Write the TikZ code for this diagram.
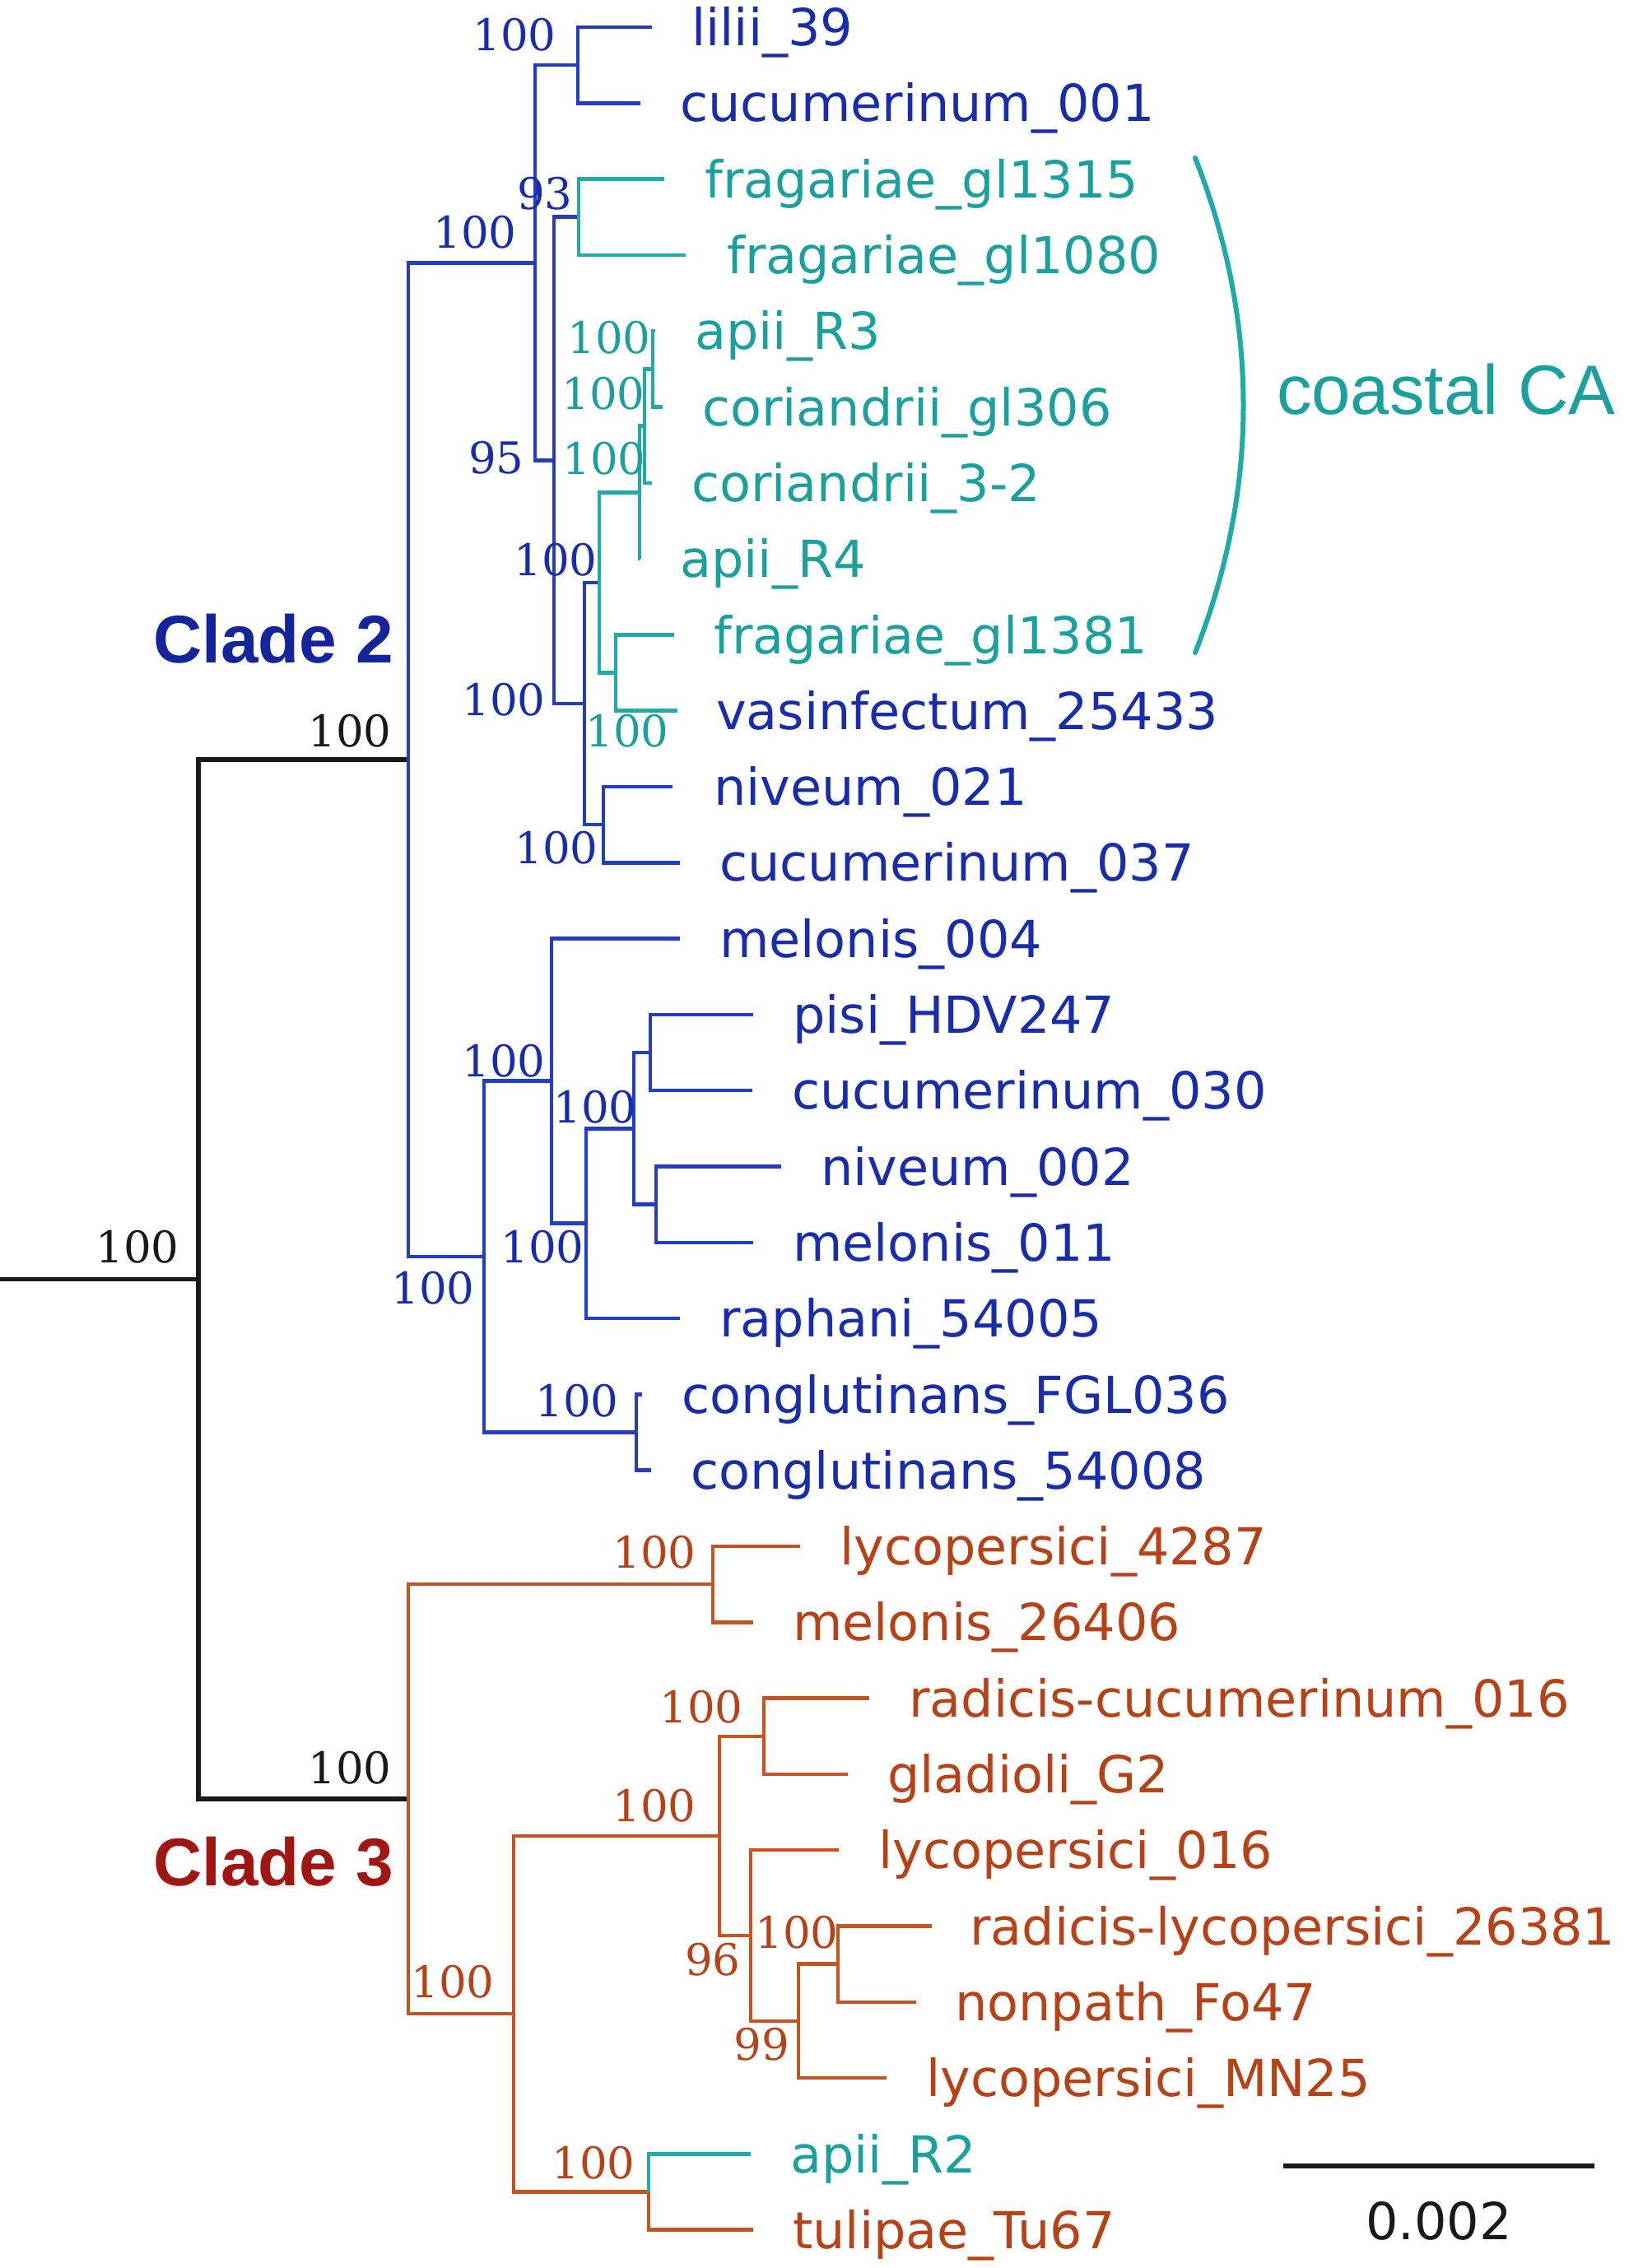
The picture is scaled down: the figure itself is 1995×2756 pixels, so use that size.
\documentclass[tikz,border=0pt]{standalone}
\usepackage{fontspec}
\newfontfamily\leaffont{DejaVu Sans}
\newfontfamily\bsfont{DejaVu Serif}
\newfontfamily\cladefont{Liberation Sans}
\definecolor{lblue}{RGB}{35,62,195}
\definecolor{tblue}{RGB}{25,45,170}
\definecolor{lcyan}{RGB}{32,170,168}
\definecolor{tcyan}{RGB}{28,160,158}
\definecolor{lorng}{RGB}{196,84,34}
\definecolor{torng}{RGB}{182,66,24}
\definecolor{ctwo}{RGB}{20,36,155}
\definecolor{cthree}{RGB}{160,22,18}
\definecolor{kblk}{RGB}{25,25,25}
\begin{document}
\begin{tikzpicture}[x=1pt,y=-1pt,
  br/.style={line width=4.5pt},
  bb/.style={br,draw=lblue},
  cb/.style={br,draw=lcyan},
  ob/.style={br,draw=lorng},
  kb/.style={line width=5.5pt,draw=kblk},
  leaf/.style={anchor=base west,inner sep=0pt,font=\leaffont\fontsize{62}{62}\selectfont},
  bl/.style={leaf,text=tblue},
  cl/.style={leaf,text=tcyan},
  ol/.style={leaf,text=torng},
  bs/.style={anchor=center,inner sep=0pt,font=\bsfont\fontsize{53}{53}\selectfont},
  bsb/.style={bs,text=tblue},
  bsc/.style={bs,text=tcyan},
  bso/.style={bs,text=torng},
  bsk/.style={bs,text=kblk},
]
\useasboundingbox (0,0) rectangle (1995,2756);
% internal nodes
\coordinate (rootin) at (0,1554.7);
\coordinate (root) at (241,1554.7);
\coordinate (K2) at (496,923.2);
\coordinate (K3) at (496,2186.2);
\coordinate (A) at (650,319.3);
\coordinate (L) at (702,79.15);
\coordinate (B) at (673,559.4);
\coordinate (G) at (703,263.75);
\coordinate (C) at (710,855.05);
\coordinate (F) at (728,707.95);
\coordinate (H) at (777,598.35);
\coordinate (P2) at (783,517.6);
\coordinate (P1) at (793,448.35);
\coordinate (GV) at (748,817.55);
\coordinate (E) at (733,1002.15);
\coordinate (M) at (588,1527.1);
\coordinate (N) at (670,1313.65);
\coordinate (R) at (712,1486.7);
\coordinate (S) at (770,1371.35);
\coordinate (T) at (790,1279.05);
\coordinate (U) at (797,1463.65);
\coordinate (Q) at (773,1740.55);
\coordinate (V) at (866,1925.15);
\coordinate (W) at (624,2447.2);
\coordinate (X) at (874,2230.9);
\coordinate (Z) at (928,2109.75);
\coordinate (AA) at (912,2352.05);
\coordinate (AB) at (970,2455.9);
\coordinate (AC) at (1018,2386.65);
\coordinate (Y) at (788,2663.55);
% leaf tips
\coordinate (t0) at (792,33);
\coordinate (t1) at (778,125.3);
\coordinate (t2) at (807,217.6);
\coordinate (t3) at (833,309.9);
\coordinate (t4) at (796,402.2);
\coordinate (t5) at (805,494.5);
\coordinate (t6) at (792,586.8);
\coordinate (t7) at (778,679.1);
\coordinate (t8) at (819,771.4);
\coordinate (t9) at (823,863.7);
\coordinate (t10) at (817,956);
\coordinate (t11) at (826,1048.3);
\coordinate (t12) at (826,1140.6);
\coordinate (t13) at (915,1232.9);
\coordinate (t14) at (914,1325.2);
\coordinate (t15) at (949,1417.5);
\coordinate (t16) at (915,1509.8);
\coordinate (t17) at (826,1602.1);
\coordinate (t18) at (780,1694.4);
\coordinate (t19) at (791,1786.7);
\coordinate (t20) at (972,1879);
\coordinate (t21) at (915,1971.3);
\coordinate (t22) at (1056,2063.6);
\coordinate (t23) at (1030,2155.9);
\coordinate (t24) at (1019,2248.2);
\coordinate (t25) at (1132,2340.5);
\coordinate (t26) at (1113,2432.8);
\coordinate (t27) at (1077,2525.1);
\coordinate (t28) at (912,2617.4);
\coordinate (t29) at (915,2709.7);
% branches
\draw[kb] (rootin) -- (root);
\draw[kb] (root) |- (K2);
\draw[kb] (root) |- (K3);
\draw[bb] (K2) |- (A);
\draw[bb] (K2) |- (M);
\draw[bb] (A) |- (L);
\draw[bb] (A) |- (B);
\draw[bb] (L) |- (t0);
\draw[bb] (L) |- (t1);
\draw[bb] (B) |- (G);
\draw[bb] (B) |- (C);
\draw[cb] (G) |- (t2);
\draw[cb] (G) |- (t3);
\draw[bb] (C) |- (F);
\draw[bb] (C) |- (E);
\draw[cb] (F) |- (H);
\draw[cb] (F) |- (GV);
\draw[cb] (H) |- (P2);
\draw[cb] (H) |- (t7);
\draw[cb] (P2) |- (P1);
\draw[cb] (P2) |- (t6);
\draw[cb] (P1) |- (t4);
\draw[cb] (P1) |- (t5);
\draw[cb] (GV) |- (t8);
\draw[cb] (GV) |- (t9);
\draw[bb] (E) |- (t10);
\draw[bb] (E) |- (t11);
\draw[bb] (M) |- (N);
\draw[bb] (M) |- (Q);
\draw[bb] (N) |- (t12);
\draw[bb] (N) |- (R);
\draw[bb] (R) |- (S);
\draw[bb] (R) |- (t17);
\draw[bb] (S) |- (T);
\draw[bb] (S) |- (U);
\draw[bb] (T) |- (t13);
\draw[bb] (T) |- (t14);
\draw[bb] (U) |- (t15);
\draw[bb] (U) |- (t16);
\draw[bb] (Q) |- (t18);
\draw[bb] (Q) |- (t19);
\draw[ob] (K3) |- (V);
\draw[ob] (K3) |- (W);
\draw[ob] (V) |- (t20);
\draw[ob] (V) |- (t21);
\draw[ob] (W) |- (X);
\draw[ob] (W) |- (Y);
\draw[ob] (X) |- (Z);
\draw[ob] (X) |- (AA);
\draw[ob] (Z) |- (t22);
\draw[ob] (Z) |- (t23);
\draw[ob] (AA) |- (t24);
\draw[ob] (AA) |- (AB);
\draw[ob] (AB) |- (AC);
\draw[ob] (AB) |- (t27);
\draw[ob] (AC) |- (t25);
\draw[ob] (AC) |- (t26);
\draw[cb] (Y) |- (t28);
\draw[ob] (Y) |- (t29);
% leaf labels
\node[bl] (n0) at (840,55.6) {lilii\_39};
\node[bl] (n1) at (826,147.9) {cucumerinum\_001};
\node[cl] (n2) at (856,240.2) {fragariae\_gl1315};
\node[cl] (n3) at (883,332.5) {fragariae\_gl1080};
\node[cl] (n4) at (844,424.8) {apii\_R3};
\node[cl] (n5) at (853,517.1) {coriandrii\_gl306};
\node[cl] (n6) at (840,609.4) {coriandrii\_3-2};
\node[cl] (n7) at (826,701.7) {apii\_R4};
\node[cl] (n8) at (867,794) {fragariae\_gl1381};
\node[bl] (n9) at (870,886.3) {vasinfectum\_25433};
\node[bl] (n10) at (867,978.6) {niveum\_021};
\node[bl] (n11) at (874,1070.9) {cucumerinum\_037};
\node[bl] (n12) at (874,1163.2) {melonis\_004};
\node[bl] (n13) at (963,1255.5) {pisi\_HDV247};
\node[bl] (n14) at (962,1347.8) {cucumerinum\_030};
\node[bl] (n15) at (997,1440.1) {niveum\_002};
\node[bl] (n16) at (963,1532.4) {melonis\_011};
\node[bl] (n17) at (874,1624.7) {raphani\_54005};
\node[bl] (n18) at (828,1717) {conglutinans\_FGL036};
\node[bl] (n19) at (839,1809.3) {conglutinans\_54008};
\node[ol] (n20) at (1020,1901.6) {lycopersici\_4287};
\node[ol] (n21) at (963,1993.9) {melonis\_26406};
\node[ol] (n22) at (1104,2086.2) {radicis-cucumerinum\_016};
\node[ol] (n23) at (1078,2178.5) {gladioli\_G2};
\node[ol] (n24) at (1067,2270.8) {lycopersici\_016};
\node[ol] (n25) at (1178,2363.1) {radicis-lycopersici\_26381};
\node[ol] (n26) at (1160,2455.4) {nonpath\_Fo47};
\node[ol] (n27) at (1125,2547.7) {lycopersici\_MN25};
\node[cl] (n28) at (960,2640) {apii\_R2};
\node[ol] (n29) at (963,2732.3) {tulipae\_Tu67};
% support values
\node[bsk] (sroot) at (167,1515) {100};
\node[bsk] (sK2) at (425,888) {100};
\node[bsk] (sK3) at (425,2148) {100};
\node[bsb] (sA) at (577,282) {100};
\node[bsb] (sL) at (625,42) {100};
\node[bsb] (sG) at (662,235) {93};
\node[bsb] (sB) at (603,556) {95};
\node[bsc] (sP1) at (740,410) {100};
\node[bsc] (sP2) at (733,478) {100};
\node[bsc] (sH) at (734,557) {100};
\node[bsb] (sF) at (675,680) {100};
\node[bsb] (sC) at (612,850) {100};
\node[bsc] (sGV) at (762,888) {100};
\node[bsb] (sE) at (676,1030) {100};
\node[bsb] (sN) at (612,1289) {100};
\node[bsb] (sS) at (723,1345) {100};
\node[bsb] (sR) at (659,1515) {100};
\node[bsb] (sM) at (526,1565) {100};
\node[bsb] (sQ) at (701,1702) {100};
\node[bso] (sV) at (795,1886) {100};
\node[bso] (sZ) at (852,2074) {100};
\node[bso] (sX) at (795,2194) {100};
\node[bso] (sW) at (550,2408) {100};
\node[bso] (sAC) at (968,2348) {100};
\node[bso] (sAA) at (866,2381) {96};
\node[bso] (sAB) at (925,2484) {99};
\node[bso] (sY) at (721,2628) {100};
% clade labels
\node[anchor=east,inner sep=0pt,font=\cladefont\bfseries\fontsize{82}{82}\selectfont,text=ctwo] (cl2) at (478,776) {Clade 2};
\node[anchor=east,inner sep=0pt,font=\cladefont\bfseries\fontsize{82}{82}\selectfont,text=cthree] (cl3) at (478,2262) {Clade 3};
% coastal CA bracket
\coordinate (brt) at (1452,192);
\coordinate (brb) at (1452,793);
\draw[line width=6pt,draw=lcyan,line cap=round] (brt) .. controls (1530,390) and (1530,595) .. (brb);
\node[anchor=west,inner sep=0pt,font=\cladefont\fontsize{85}{85}\selectfont,text=tcyan] (coast) at (1551,473) {coastal CA};
% scale bar
\coordinate (sbl) at (1559,2632);
\coordinate (sbr) at (1937,2632);
\draw[line width=6pt,draw=kblk] (sbl) -- (sbr);
\node[anchor=center,inner sep=0pt,font=\leaffont\fontsize{62}{62}\selectfont,text=kblk] (sbt) at (1748,2699) {0.002};
\end{tikzpicture}
\end{document}
